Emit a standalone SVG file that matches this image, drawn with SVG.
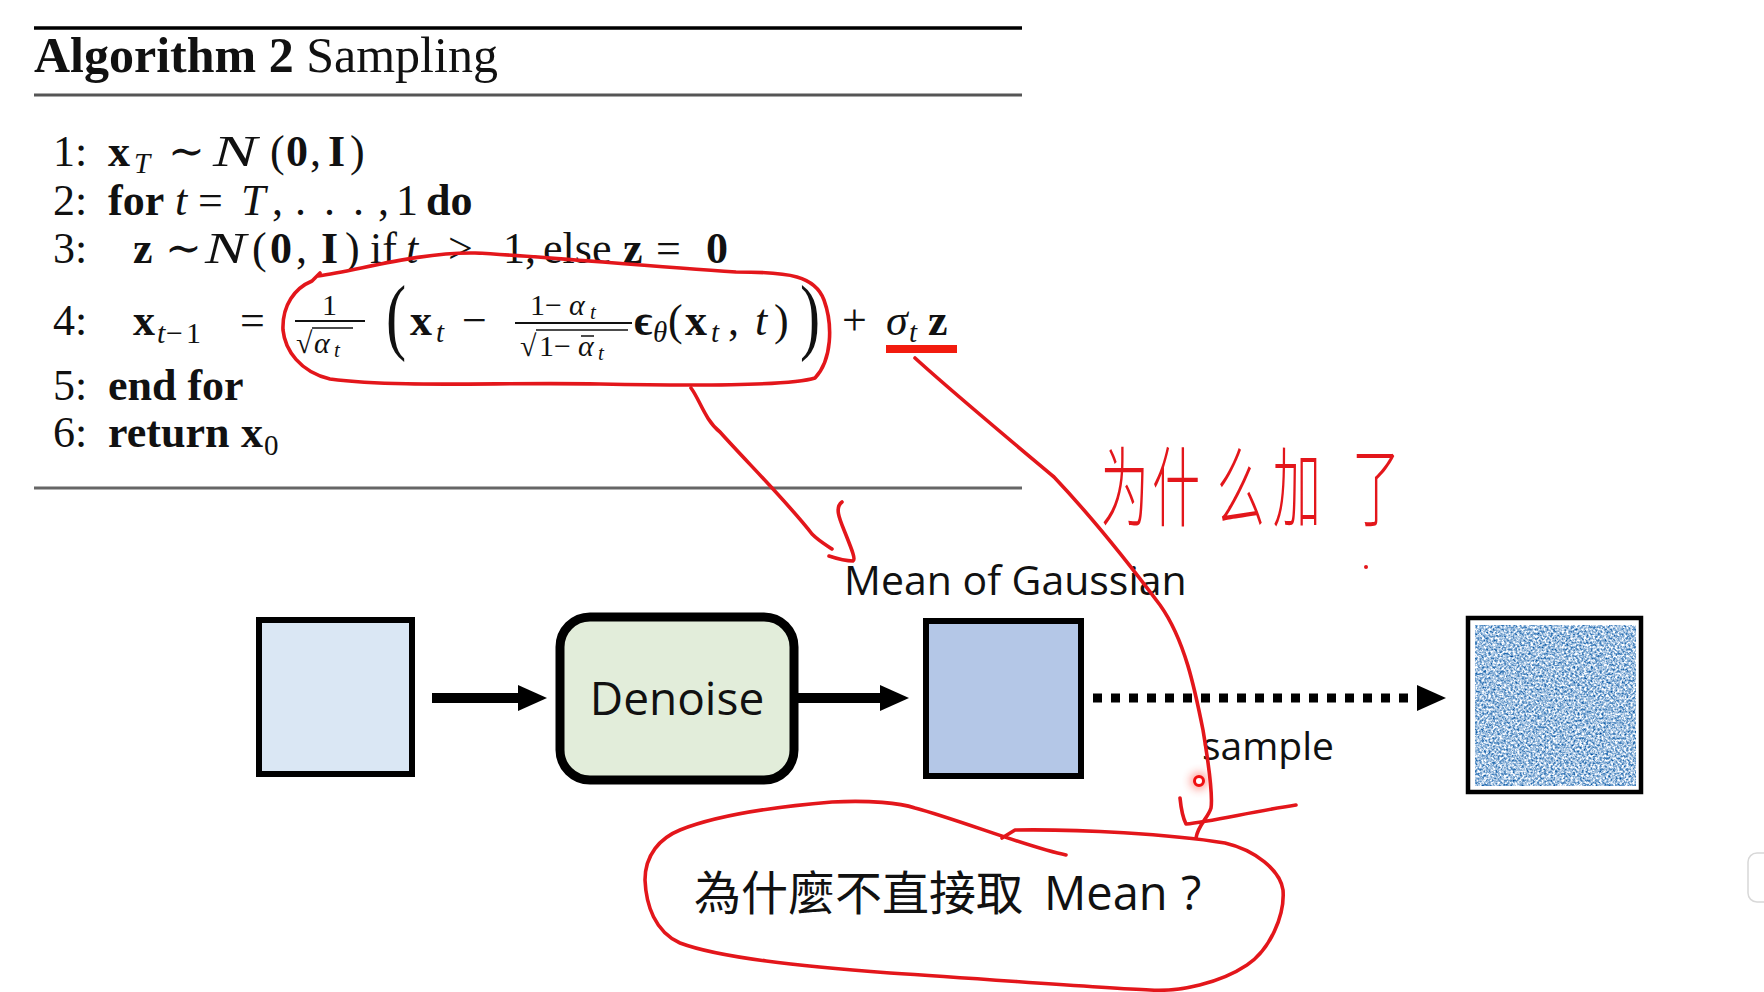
<svg xmlns="http://www.w3.org/2000/svg" width="1764" height="992" viewBox="0 0 1764 992">
<style>
.m{font-family:"Liberation Serif","DejaVu Serif",serif;font-size:44px;fill:#111}
.b{font-weight:bold}
.i{font-style:italic}
.s{font-size:29px}
.ss{font-size:21px}
.fr{font-size:30px}
.rule{stroke-linecap:butt}
.sans{font-family:"Open Sans","Noto Sans",sans-serif;fill:#111}
.red{fill:none;stroke:#E3161B;stroke-width:3.6;stroke-linecap:round;stroke-linejoin:round}
.box{stroke:#000;stroke-width:6}
</style>
<defs>
<filter id="noise" x="0" y="0" width="100%" height="100%" color-interpolation-filters="sRGB">
<feTurbulence type="fractalNoise" baseFrequency="0.45" numOctaves="3" seed="7" result="t"/>
<feColorMatrix in="t" type="matrix" values="1.77 0 0 0 -0.26  1.2 0 0 0 0.15  0.67 0 0 0 0.54  0 0 0 0 1"/>
</filter>
<filter id="glow" x="-100%" y="-100%" width="300%" height="300%"><feGaussianBlur stdDeviation="4"/></filter>
</defs>
<rect width="1764" height="992" fill="#fff"/>

<g id="algorithm">
<line class="rule" x1="34" y1="28" x2="1022" y2="28" stroke="#000" stroke-width="3.6"/>
<text class="m" x="34" y="72" style="font-size:50px"><tspan class="b">Algorithm 2</tspan> Sampling</text>
<line class="rule" x1="34" y1="95" x2="1022" y2="95" stroke="#555" stroke-width="3"/>

<g id="line1">
<text class="m" x="53" y="166">1:</text>
<text class="m b" x="108" y="166">x</text>
<text class="m i s" x="134" y="173">T</text>
<text class="m" x="168" y="166">∼</text>
<text class="m i" transform="translate(213,166) scale(1.5,1)">N</text>
<text class="m" x="270" y="166">(</text>
<text class="m b" x="286" y="166">0</text>
<text class="m" x="310" y="166">,</text>
<text class="m b" x="328" y="166">I</text>
<text class="m" x="350" y="166">)</text>
</g>

<g id="line2">
<text class="m" x="53" y="215">2:</text>
<text class="m b" x="108" y="215">for</text>
<text class="m i" x="175" y="215">t</text>
<text class="m" x="198" y="215">=</text>
<text class="m i" x="241" y="215">T</text>
<text class="m" x="272" y="215">,</text>
<text class="m" x="295" y="215">.</text>
<text class="m" x="324" y="215">.</text>
<text class="m" x="353" y="215">.</text>
<text class="m" x="378" y="215">,</text>
<text class="m" x="396" y="215">1</text>
<text class="m b" x="426" y="215">do</text>
</g>

<g id="line3">
<text class="m" x="53" y="263">3:</text>
<text class="m b" x="133" y="263">z</text>
<text class="m" x="165" y="263">∼</text>
<text class="m i" transform="translate(205,263) scale(1.4,1)">N</text>
<text class="m" x="252" y="263">(</text>
<text class="m b" x="270" y="263">0</text>
<text class="m" x="296" y="263">,</text>
<text class="m b" x="321" y="263">I</text>
<text class="m" x="345" y="263">)</text>
<text class="m" x="370" y="263">if</text>
<text class="m i" x="406" y="263">t</text>
<text class="m" x="448" y="263">&gt;</text>
<text class="m" x="503" y="263">1</text>
<text class="m" x="525" y="263">,</text>
<text class="m" x="543" y="263">else</text>
<text class="m b" x="623" y="263">z</text>
<text class="m" x="656" y="263">=</text>
<text class="m b" x="706" y="263">0</text>
</g>

<g id="line4">
<text class="m" x="53" y="335">4:</text>
<text class="m b" x="133" y="335">x</text>
<text class="m i fr" x="157" y="343">t</text>
<text class="m fr" x="166" y="343">−</text>
<text class="m fr" x="186" y="343">1</text>
<text class="m" x="240" y="335">=</text>
<text class="m fr" x="322" y="315">1</text>
<line x1="295" y1="321" x2="365" y2="321" stroke="#111" stroke-width="1.8"/>
<text class="m fr" x="296" y="353">√</text>
<line x1="312" y1="328" x2="353" y2="328" stroke="#111" stroke-width="1.5"/>
<text class="m i fr" x="314" y="353">α</text>
<text class="m i ss" x="334" y="357">t</text>
<text class="m" transform="translate(386,344) scale(0.72,1)" style="font-size:84px">(</text>
<text class="m b" x="410" y="335">x</text>
<text class="m i s" x="436" y="342">t</text>
<text class="m" x="462" y="335">−</text>
<text class="m fr" x="530" y="315">1</text>
<text class="m fr" x="545" y="315">−</text>
<text class="m i fr" x="569" y="315">α</text>
<text class="m i ss" x="590" y="319">t</text>
<line x1="515" y1="323" x2="632" y2="323" stroke="#111" stroke-width="1.8"/>
<text class="m fr" x="520" y="356">√</text>
<line x1="536" y1="330" x2="628" y2="330" stroke="#111" stroke-width="1.5"/>
<text class="m fr" x="539" y="356">1</text>
<text class="m fr" x="554" y="356">−</text>
<text class="m i fr" x="578" y="356">α</text>
<line x1="581" y1="336" x2="594" y2="336" stroke="#111" stroke-width="1.5"/>
<text class="m i ss" x="598" y="360">t</text>
<text class="m b" x="634" y="335">ϵ</text>
<text class="m i s" x="653" y="342">θ</text>
<text class="m" x="668" y="335">(</text>
<text class="m b" x="685" y="335">x</text>
<text class="m i s" x="711" y="342">t</text>
<text class="m" x="728" y="335">,</text>
<text class="m i" x="755" y="335">t</text>
<text class="m" x="774" y="335">)</text>
<text class="m" transform="translate(800,344) scale(0.72,1)" style="font-size:84px">)</text>
<text class="m" x="842" y="335">+</text>
<text class="m i" x="886" y="335">σ</text>
<text class="m i s" x="909" y="342">t</text>
<text class="m b" x="928" y="335">z</text>
</g>

<g id="line5">
<text class="m" x="53" y="400">5:</text>
<text class="m b" x="108" y="400">end for</text>
</g>

<g id="line6">
<text class="m" x="53" y="447">6:</text>
<text class="m b" x="108" y="447">return</text>
<text class="m b" x="241" y="447">x</text>
<text class="m s" x="264" y="455">0</text>
</g>

<line class="rule" x1="34" y1="488" x2="1022" y2="488" stroke="#666" stroke-width="3"/>
</g>

<g id="input-box">
<rect class="box" x="259" y="620" width="153" height="154" fill="#DAE7F4"/>
</g>
<g id="denoise">
<rect x="560" y="617" width="234" height="163" rx="30" fill="#E2EDDA" stroke="#000" stroke-width="9"/>
<text class="sans" x="677" y="715" text-anchor="middle" style="font-size:46px">Denoise</text>
</g>
<g id="mean-box">
<rect class="box" x="926" y="621" width="155" height="155" fill="#B4C7E7"/>
<text class="sans" x="844" y="595" style="font-size:41px">Mean of Gaussian</text>
</g>
<g id="noise-box">
<rect x="1468" y="618" width="173" height="174" fill="#fff" stroke="#000" stroke-width="4.5"/>
<rect x="1475" y="625" width="161" height="161" fill="#7FA9D4" filter="url(#noise)"/>
</g>

<g id="connectors">
<line x1="432" y1="698" x2="520" y2="698" stroke="#000" stroke-width="10"/>
<path d="M518 685 L547 698 L518 711 Z" fill="#000"/>
<line x1="797" y1="698" x2="882" y2="698" stroke="#000" stroke-width="10"/>
<path d="M880 685 L909 698 L880 711 Z" fill="#000"/>
<line x1="1093" y1="698" x2="1412" y2="698" stroke="#000" stroke-width="9" stroke-dasharray="9 9"/>
<path d="M1417 685 L1446 698 L1417 711 Z" fill="#000"/>
<text class="sans" x="1202" y="760" style="font-size:39px">sample</text>
</g>

<g id="annotations">
<path class="red" d="M318 276 C360 270 420 252 475 253 C540 256 640 266 736 272 C790 272 815 276 824 300 C833 325 832 360 815 378 C790 386 700 386 600 384 C500 382 400 388 330 379 C300 372 285 350 283 330 C282 305 295 288 312 281 L320 273"/>
<rect x="886" y="345" width="71" height="8" fill="#F21B0E"/>
<path class="red" d="M691 388 C700 400 705 420 720 432 C745 460 790 505 812 534 C820 542 828 546 832 549"/>
<path class="red" d="M842 502 C834 508 840 520 846 535 C852 550 856 560 853 561 C845 561 835 558 829 556"/>
<path class="red" d="M915 358 C950 390 1010 440 1054 477 C1090 515 1130 565 1160 605 C1185 640 1195 690 1203 730 C1208 760 1213 795 1211 808 C1208 818 1198 825 1196 838"/>
<path class="red" d="M1180 798 C1181 808 1183 818 1186 824 C1210 822 1250 812 1296 805"/>
<path class="red" d="M1002 838 L1015 830 C1080 829 1170 834 1225 843 C1255 850 1280 870 1283 890 C1285 915 1270 950 1247 965 C1220 983 1180 992 1150 990 C1100 988 1000 980 890 973 C800 966 720 958 680 943 C655 932 646 905 645 880 C645 855 660 838 680 830 C710 818 760 808 832 802 C870 800 900 803 915 808 C960 820 1030 848 1066 855"/>
<text x="694" y="910" style="font-family:'Open Sans','Noto Sans CJK TC',sans-serif;font-size:47px;fill:#111">為什麼不直接取<tspan x="1044">Mean</tspan><tspan x="1181">?</tspan></text>
<text transform="translate(0,520) scale(0.8,1.45)" x="1376 1440 1521 1591 1690" y="0" style="font-family:'Noto Sans CJK SC',sans-serif;font-size:60px;font-weight:300;fill:#E3161B">为什么加了</text>
<circle cx="1366" cy="567" r="2" fill="#E3161B"/>
<circle cx="1199" cy="781" r="9" fill="#ff3020" opacity="0.45" filter="url(#glow)"/>
<circle cx="1199" cy="781" r="4.5" fill="#fff" stroke="#F01010" stroke-width="3"/>
</g>

<g id="ui-tab">
<rect x="1748" y="853" width="30" height="49" rx="9" fill="#fff" stroke="#d8d8d8" stroke-width="1.5"/>
</g>
</svg>
